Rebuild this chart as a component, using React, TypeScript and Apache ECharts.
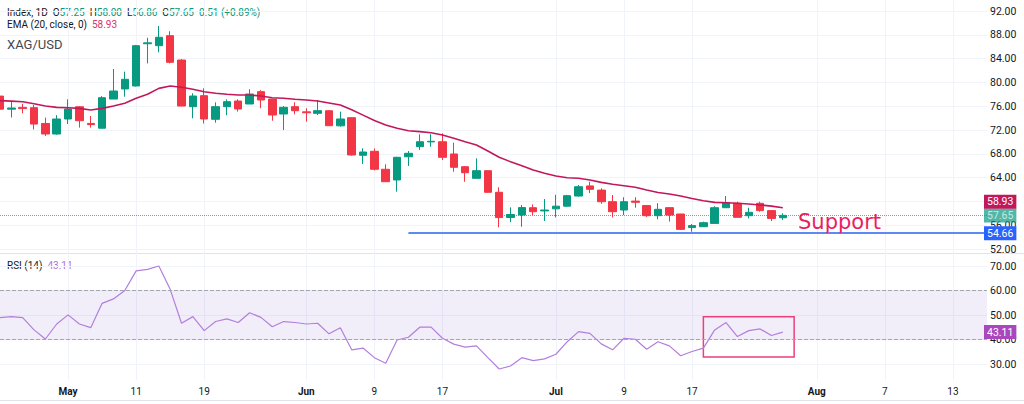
import React, { useEffect, useRef } from "react";
import * as echarts from "echarts";

// ---- data (XAG/USD daily) ----
const OPEN = [
  77.7, 75.5, 75.8, 75.75, 73.1, 71.33, 73.85, 75.9, 73.1, 72.3,
  77.2, 78.9, 79.4, 86.5, 86.17, 87.85, 83.76, 75.92, 77.77, 73.8,
  75.92, 76.87, 76.37, 78.44, 77.2, 74.69, 75.92, 75.05, 74.8, 75.24,
  72.7, 74.07, 67.75, 68.42, 65.4, 63.6, 67.5, 69.2, 70.0, 70.03,
  67.97, 65.83, 63.88, 65.16, 61.53, 57.3, 57.71, 58.94, 58.4, 58.75,
  59.2, 60.9, 62.6, 61.9, 59.95, 58.55, 60.05, 59.3, 57.6, 58.95,
  57.88, 55.6, 55.75, 56.3, 58.94, 59.68, 57.6, 59.68, 58.45, 57.25,
];
const HIGH = [
  77.9, 76.8, 76.4, 76.2, 74.07, 74.5, 77.16, 76.0, 74.35, 77.7,
  82.25, 81.8, 86.3, 87.5, 89.48, 88.6, 83.9, 78.17, 79.0, 76.65,
  77.16, 77.16, 78.84, 78.7, 77.2, 76.03, 76.65, 75.65, 77.04, 75.3,
  75.08, 74.1, 68.92, 68.9, 66.24, 67.5, 68.47, 71.27, 71.3, 71.44,
  69.87, 65.95, 67.24, 65.2, 62.37, 59.0, 59.4, 59.5, 60.4, 61.1,
  61.1, 62.76, 63.3, 62.2, 61.07, 60.7, 60.7, 59.3, 59.7, 59.0,
  57.9, 56.2, 56.6, 59.2, 60.9, 59.95, 58.94, 59.95, 58.5, 58.0,
];
const LOW = [
  75.3, 74.1, 74.8, 72.1, 71.0, 71.2, 73.0, 72.4, 72.4, 72.3,
  77.2, 77.6, 79.3, 83.2, 85.06, 83.2, 76.0, 73.97, 73.1, 73.23,
  74.5, 75.1, 76.37, 75.65, 73.56, 72.0, 74.64, 73.4, 74.5, 72.7,
  72.55, 67.7, 66.3, 65.2, 63.3, 61.63, 65.95, 68.64, 69.2, 66.96,
  64.99, 63.31, 63.88, 61.5, 55.65, 56.5, 55.75, 57.7, 56.7, 57.3,
  59.1, 60.8, 61.4, 59.6, 57.3, 57.7, 58.94, 57.4, 57.0, 56.6,
  55.2, 54.9, 55.7, 56.3, 58.9, 57.3, 57.16, 58.27, 56.7, 56.86,
];
const CLOSE = [
  75.5, 75.7, 75.6, 73.0, 71.33, 73.85, 75.53, 73.56, 72.9, 77.43,
  78.55, 80.52, 86.17, 86.65, 87.58, 83.38, 76.03, 77.71, 73.85, 75.92,
  76.76, 75.53, 78.05, 77.04, 74.52, 75.81, 75.24, 74.9, 75.25, 72.72,
  73.85, 67.8, 68.3, 65.4, 63.31, 67.41, 68.08, 70.03, 70.1, 67.41,
  65.73, 64.82, 65.16, 61.53, 57.28, 57.8, 58.96, 58.27, 58.55, 59.2,
  60.96, 62.47, 62.03, 59.95, 58.27, 59.95, 59.85, 57.6, 58.67, 57.7,
  55.3, 55.93, 56.42, 58.94, 59.78, 57.33, 58.17, 58.45, 57.14, 57.65,
];
const EMA20 = [
  76.93, 76.85, 76.76, 76.4, 76.03, 75.8, 75.75, 75.64, 75.36, 75.64,
  76.03, 76.48, 77.33, 78.0, 79.0, 79.4, 79.18, 78.84, 78.44, 78.17,
  78.0, 77.88, 77.88, 77.71, 77.43, 77.33, 77.16, 77.04, 76.87, 76.55,
  76.2, 75.4, 74.5, 73.6, 72.84, 72.28, 71.88, 71.72, 71.55, 71.16,
  70.6, 70.03, 69.48, 68.47, 67.41, 66.67, 66.0, 65.27, 64.72, 64.27,
  63.98, 63.88, 63.6, 63.2, 62.87, 62.64, 62.37, 61.92, 61.5, 61.25,
  60.9, 60.5, 60.12, 59.84, 59.78, 59.68, 59.56, 59.4, 59.2, 58.93,
];
const RSI14 = [
  48.98, 49.4, 48.98, 44.0, 40.3, 46.4, 50.1, 46.4, 44.9, 54.8,
  56.6, 60.0, 68.0, 68.6, 70.0, 60.5, 46.7, 49.4, 43.7, 47.4,
  48.5, 47.0, 51.0, 49.1, 45.3, 47.4, 47.0, 46.4, 46.7, 42.4,
  44.9, 35.9, 36.6, 32.7, 30.4, 39.9, 41.0, 45.1, 45.1, 40.6,
  38.2, 37.0, 37.5, 32.7, 28.1, 29.3, 32.7, 31.5, 32.2, 34.1,
  39.2, 43.3, 42.6, 38.3, 35.9, 40.6, 40.2, 36.1, 39.2, 37.5,
  33.5, 35.2, 36.6, 44.0, 47.0, 41.3, 43.7, 44.4, 41.7, 43.11,
];

const SLOT_COUNT = 88; // daily slots incl. empty future space
const TICK_INDEX = [6, 12, 18, 27, 33, 39, 49, 55, 61, 72, 78, 84];
const TICK_LABEL = ["May", "11", "19", "Jun", "9", "17", "Jul", "9", "17", "Aug", "7", "13"];
const MONTHS = ["May", "Jun", "Jul", "Aug"];

const SUPPORT_LEVEL = 54.66;
const SUPPORT_START = 36;
const SUPPORT_TEXT_AT = [74, 56.55];
const RSI_BOX_FROM = [62, 49.3];
const RSI_BOX_TO = [70, 33];
const RSI_BAND = [40, 60];

const FONT = "Roboto, 'Liberation Sans', Arial, sans-serif";
const UP = "#089981";
const DOWN = "#f23645";
const EMA_COLOR = "#c2185b";
const RSI_COLOR = "#b27fdc";
const GRID = "#f0f3fa";

function tag(text: string, bg: string, extra: any = {}) {
  return {
    show: true,
    position: "end",
    formatter: text,
    backgroundColor: bg,
    color: "#ffffff",
    fontFamily: FONT,
    fontSize: 10.5,
    padding: [2, 3, 1, 3],
    distance: -3,
    ...extra,
  };
}

export default function App() {
  const ref = useRef<HTMLDivElement>(null);

  useEffect(() => {
    if (!ref.current) return;
    const chart = echarts.init(ref.current, null, { renderer: "svg" });
    const cats = Array.from({ length: SLOT_COUNT }, (_, i) => String(i));
    const candles = OPEN.map((o, i) => [o, CLOSE[i], LOW[i], HIGH[i]]);
    const tickMap = new Map<number, string>(TICK_INDEX.map((idx, k) => [idx, TICK_LABEL[k]]));
    const last = CLOSE.length - 1;
    const chg = CLOSE[last] - CLOSE[last - 1];
    const pct = (chg / CLOSE[last - 1]) * 100;
    const sign = chg >= 0 ? "+" : "";
    const f2 = (v: number) => v.toFixed(2);

    const hiddenX = (gridIndex: number) => ({
      type: "category",
      gridIndex,
      data: cats,
      boundaryGap: false,
      axisLine: { show: false },
      axisTick: { show: false },
      axisLabel: { show: false },
      splitLine: { show: false },
    });

    const rightY = (
      gridIndex: number,
      min: number,
      max: number,
      interval: number,
      hidden: (v: number) => boolean
    ) => ({
      type: "value",
      gridIndex,
      position: "right",
      min,
      max,
      interval,
      axisLine: { show: false },
      axisTick: { show: false },
      axisLabel: {
        color: "#131722",
        fontSize: 10.5,
        fontFamily: FONT,
        margin: 3,
        formatter: (v: number) => (hidden(v) ? "" : v.toFixed(2)),
      },
      splitLine: { lineStyle: { color: GRID, width: 1 } },
    });

    chart.setOption({
      animation: false,
      backgroundColor: "#ffffff",
      textStyle: { fontFamily: FONT },
      grid: [
        { left: 0, right: 37, top: 11, height: 238 },
        { left: 0, right: 37, top: 266, height: 98.3 },
        { left: 0, right: 37, top: 0, height: 380 },
      ],
      xAxis: [
        hiddenX(0),
        hiddenX(1),
        {
          type: "category",
          gridIndex: 2,
          data: cats,
          boundaryGap: false,
          axisLine: { show: false },
          axisTick: { show: false },
          axisLabel: {
            interval: (i: number) => tickMap.has(i),
            color: "#131722",
            fontSize: 10,
            fontFamily: FONT,
            margin: 6,
            formatter: (v: string) => {
              const l = tickMap.get(Number(v));
              if (!l) return "";
              return MONTHS.includes(l) ? `{b|${l}}` : l;
            },
            rich: { b: { fontWeight: "bold", fontSize: 10, color: "#131722", fontFamily: FONT } },
          },
          splitLine: {
            show: true,
            interval: (i: number) => tickMap.has(i),
            lineStyle: { color: GRID, width: 1 },
          },
        },
      ],
      yAxis: [
        // the 60.00 label sits fully under the EMA price tag in the reference
        rightY(0, 52, 92, 4, (v) => Math.abs(v - EMA20[last]) < 1.5),
        rightY(1, 30, 70, 10, () => false),
        { type: "value", gridIndex: 2, show: false, min: 0, max: 1, splitLine: { show: false } },
      ],
      series: [
        {
          type: "candlestick",
          xAxisIndex: 0,
          yAxisIndex: 0,
          data: candles,
          barWidth: 8,
          z: 3,
          itemStyle: { color: UP, color0: DOWN, borderColor: UP, borderColor0: DOWN, borderWidth: 1 },
          markLine: {
            silent: true,
            symbol: "none",
            animation: false,
            data: [
              {
                yAxis: CLOSE[last],
                lineStyle: { color: UP, type: "dotted", width: 1, opacity: 0.7 },
                label: tag(f2(CLOSE[last]), UP),
              },
              [
                {
                  coord: [SUPPORT_START, SUPPORT_LEVEL],
                  lineStyle: { color: "#5b8af5", type: "solid", width: 2 },
                  label: tag(f2(SUPPORT_LEVEL), "#2962ff"),
                },
                {
                  coord: [SLOT_COUNT - 1, SUPPORT_LEVEL],
                  lineStyle: { color: "#5b8af5", type: "solid", width: 2 },
                  label: tag(f2(SUPPORT_LEVEL), "#2962ff"),
                },
              ],
            ],
          },
          markPoint: {
            silent: true,
            animation: false,
            data: [
              {
                coord: SUPPORT_TEXT_AT,
                symbol: "rect",
                symbolSize: 1,
                itemStyle: { color: "rgba(0,0,0,0)" },
                label: {
                  show: true,
                  position: "inside",
                  formatter: "Support",
                  color: "#e91e63",
                  fontSize: 21,
                  fontFamily: "'DejaVu Sans', sans-serif",
                },
              },
            ],
          },
        },
        {
          type: "line",
          name: "EMA",
          xAxisIndex: 0,
          yAxisIndex: 0,
          data: EMA20,
          showSymbol: false,
          smooth: false,
          z: 4,
          lineStyle: { color: EMA_COLOR, width: 1.6 },
          markLine: {
            silent: true,
            symbol: "none",
            animation: false,
            data: [
              {
                yAxis: EMA20[last],
                lineStyle: { color: "rgba(0,0,0,0)", width: 0 },
                label: tag(f2(EMA20[last]), EMA_COLOR, { offset: [0, -6] }),
              },
            ],
          },
        },
        {
          type: "line",
          name: "RSI",
          xAxisIndex: 1,
          yAxisIndex: 1,
          data: RSI14,
          showSymbol: false,
          clip: false,
          z: 4,
          lineStyle: { color: RSI_COLOR, width: 1.2 },
          markArea: {
            silent: true,
            animation: false,
            data: [
              [
                { yAxis: RSI_BAND[1], itemStyle: { color: "rgba(126,87,194,0.1)" } },
                { yAxis: RSI_BAND[0], itemStyle: { color: "rgba(126,87,194,0.1)" } },
              ],
              [
                {
                  coord: RSI_BOX_FROM,
                  itemStyle: { color: "rgba(0,0,0,0)", borderColor: "#ec407a", borderWidth: 1.5 },
                },
                {
                  coord: RSI_BOX_TO,
                  itemStyle: { color: "rgba(0,0,0,0)", borderColor: "#ec407a", borderWidth: 1.5 },
                },
              ],
            ],
          },
          markLine: {
            silent: true,
            symbol: "none",
            animation: false,
            data: [
              { yAxis: RSI_BAND[1], lineStyle: { color: "#a3a6af", type: "dashed", width: 1 }, label: { show: false } },
              { yAxis: RSI_BAND[0], lineStyle: { color: "#a3a6af", type: "dashed", width: 1 }, label: { show: false } },
              {
                yAxis: RSI14[last],
                lineStyle: { color: "rgba(0,0,0,0)", width: 0 },
                label: tag(f2(RSI14[last]), "#ab47bc"),
              },
            ],
          },
        },
      ],
      graphic: [
        { type: "line", shape: { x1: 0, y1: 253.5, x2: 1024, y2: 253.5 }, style: { stroke: "#e0e3eb", lineWidth: 1 }, silent: true },
        { type: "line", shape: { x1: 0, y1: 400.5, x2: 1024, y2: 400.5 }, style: { stroke: "#e0e3eb", lineWidth: 1 }, silent: true },
        {
          type: "text",
          left: 7,
          top: 7,
          silent: true,
          style: {
            text: `{k|Index, 1D  O}{v|${f2(OPEN[last])}}{k|  H}{v|${f2(HIGH[last])}}{k|  L}{v|${f2(LOW[last])}}{k|  C}{v|${f2(CLOSE[last])}}{v|  ${f2(chg)} (${sign}${f2(pct)}%)}`,
            fontFamily: FONT,
            fontSize: 10,
            rich: {
              k: { fill: "#131722", fontSize: 10, fontFamily: FONT },
              v: { fill: chg >= 0 ? UP : DOWN, fontSize: 10, fontFamily: FONT },
            },
          },
        },
        {
          type: "text",
          left: 7,
          top: 19.5,
          silent: true,
          style: {
            text: `{k|EMA (20, close, 0)  }{e|${f2(EMA20[last])}}`,
            fontFamily: FONT,
            fontSize: 10,
            rich: {
              k: { fill: "#131722", fontSize: 10, fontFamily: FONT },
              e: { fill: "#d6336c", fontSize: 10, fontFamily: FONT },
            },
          },
        },
        {
          type: "text",
          left: 7,
          top: 38,
          silent: true,
          style: { text: "XAG/USD", fill: "#434651", fontSize: 13, fontFamily: FONT },
        },
        {
          type: "text",
          left: 7,
          top: 260,
          silent: true,
          style: {
            text: `{k|RSI (14)  }{r|${f2(RSI14[last])}}`,
            fontFamily: FONT,
            fontSize: 10,
            rich: {
              k: { fill: "#131722", fontSize: 10, fontFamily: FONT },
              r: { fill: "#b070d8", fontSize: 10, fontFamily: FONT },
            },
          },
        },
      ],
    });

    return () => chart.dispose();
  }, []);

  return (
    <div
      ref={ref}
      style={{ position: "fixed", left: 0, top: 0, width: 1024, height: 404, background: "#ffffff" }}
    />
  );
}
